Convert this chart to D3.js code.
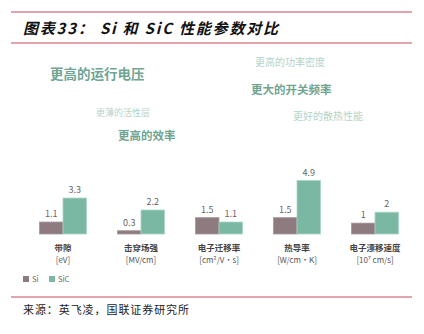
<!DOCTYPE html>
<html lang="zh">
<head>
<meta charset="utf-8">
<title>Si 和 SiC 性能参数对比</title>
<script src="https://cdn.jsdelivr.net/npm/d3@7"></script>
<style>
  body { margin: 0; background: #fff; }
  text { font-family: "Noto Sans CJK SC", "Noto Sans", sans-serif; }
</style>
</head>
<body>
<div id="chart"></div>
<script>
// data
var categories = ["带隙", "击穿场强", "电子迁移率", "热导率", "电子漂移速度"];
var units = ["[eV]", "[MV/cm]", "[cm²/V·s]", "[W/cm·K]", "[10⁷ cm/s]"];
var siValues = [1.1, 0.3, 1.5, 1.5, 1];
var sicValues = [3.3, 2.2, 1.1, 4.9, 2];
var seriesNames = ["Si", "SiC"];
var notes = [
  {t: "更高的运行电压", x: 50, y: 74, size: 13.5, c: "#6fa592"},
  {t: "更薄的活性层", x: 96, y: 113, size: 9, c: "#b5d3c8"},
  {t: "更高的效率", x: 118, y: 136, size: 11.5, c: "#6fa592"},
  {t: "更高的功率密度", x: 255, y: 62, size: 10, c: "#b5d3c8"},
  {t: "更大的开关频率", x: 251, y: 90, size: 11.5, c: "#6fa592"},
  {t: "更好的散热性能", x: 293, y: 116, size: 10, c: "#b5d3c8"}
];

var w = 424, h = 334;
var colors = {Si: "#8e7b7f", SiC: "#7bb8a4"};
var lineColor = "#d98793";

var svg = d3.select("#chart").append("svg")
  .attr("width", w).attr("height", h);

// header lines and title
[12, 43, 297].forEach(function(y) {
  svg.append("line")
    .attr("x1", 11).attr("x2", 412)
    .attr("y1", y).attr("y2", y)
    .attr("stroke", lineColor).attr("stroke-width", 1.5);
});

svg.append("text")
  .attr("x", 23).attr("y", 34)
  .attr("textLength", 255)
  .attr("lengthAdjust", "spacing")
  .style("font-size", "15px")
  .style("font-weight", "bold")
  .style("font-style", "italic")
  .attr("fill", "#111")
  .text("图表33：  Si 和 SiC 性能参数对比");

svg.append("text")
  .attr("x", 23).attr("y", 314)
  .attr("textLength", 166)
  .attr("lengthAdjust", "spacing")
  .style("font-size", "11px")
  .attr("fill", "#222")
  .text("来源：英飞凌，国联证券研究所");

// annotations
svg.selectAll("text.note")
  .data(notes).enter().append("text")
  .attr("class", "note")
  .attr("x", function(d) { return d.x; })
  .attr("y", function(d) { return d.y; })
  .attr("dy", "0.35em")
  .style("font-size", function(d) { return d.size + "px"; })
  .style("font-weight", function(d) { return d.size >= 11 ? "bold" : "normal"; })
  .attr("fill", function(d) { return d.c; })
  .text(function(d) { return d.t; });

// scales
var xScale = d3.scaleBand()
  .domain(categories)
  .range([24, 414]);

var yScale = d3.scaleLinear()
  .domain([0, 5])
  .range([234, 179.5]);

var barW = 23.5;

var groups = svg.selectAll("g.grp")
  .data(categories).enter().append("g")
  .attr("class", "grp")
  .attr("transform", function(d) {
    return "translate(" + (xScale(d) + xScale.bandwidth() / 2) + ",0)";
  });

groups.each(function(d, i) {
  var g = d3.select(this);
  var vals = [siValues[i], sicValues[i]];
  vals.forEach(function(v, j) {
    var x0 = j === 0 ? -barW : 0;
    g.append("rect")
      .attr("x", x0)
      .attr("y", yScale(v))
      .attr("width", barW)
      .attr("height", yScale(0) - yScale(v))
      .attr("fill", colors[seriesNames[j]])
      .attr("stroke", j === 0 ? "#a8989b" : "#a9d6c6")
      .attr("stroke-width", 0.8);
    g.append("text")
      .attr("x", x0 + barW / 2)
      .attr("y", yScale(v) - 5)
      .attr("text-anchor", "middle")
      .style("font-size", "9px")
      .attr("fill", "#666")
      .text(v);
  });
  g.append("text")
    .attr("y", 251)
    .attr("text-anchor", "middle")
    .style("font-size", "8.5px")
    .style("font-weight", "bold")
    .attr("fill", "#444")
    .text(d);
  g.append("text")
    .attr("y", 262.5)
    .attr("text-anchor", "middle")
    .style("font-size", "8px")
    .attr("fill", "#555")
    .text(units[i]);
});

// legend
var legend = svg.selectAll("g.leg")
  .data(seriesNames).enter().append("g")
  .attr("class", "leg")
  .attr("transform", function(d, i) { return "translate(" + (23 + i * 26) + ",276)"; });

legend.append("rect")
  .attr("width", 6).attr("height", 6)
  .attr("fill", function(d) { return colors[d]; });

legend.append("text")
  .attr("x", 9).attr("y", 3)
  .attr("dy", "0.35em")
  .style("font-size", "7.5px")
  .attr("fill", "#666")
  .text(function(d) { return d; });
</script>
</body>
</html>
